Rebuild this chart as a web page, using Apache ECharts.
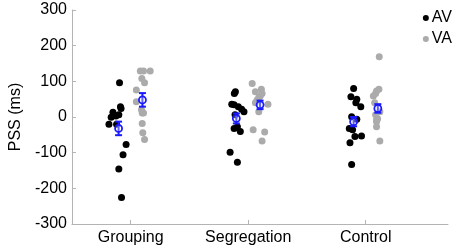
<!DOCTYPE html>
<html>
<head>
<meta charset="utf-8">
<script src="https://cdn.jsdelivr.net/npm/echarts@6/dist/echarts.min.js"></script>
<style>
  html, body { margin: 0; padding: 0; background: #fff; }
  #chart { width: 459px; height: 249px; }
</style>
</head>
<body>
<div id="chart"></div>
<script>
// conditions on the x axis (placed at 1, 2, 3)
const conditions = ["Grouping", "Segregation", "Control"];
const yTicks = [-300, -200, -100, 0, 100, 200, 300];

// individual PSS values (ms) and their jittered x positions
const avX = [
  0.905, 0.913, 0.918, 0.849, 0.899, 0.834, 0.874, 0.815, 0.880, 0.961, 0.935, 0.899, 0.922,
  1.891, 1.882, 1.860, 1.880, 1.916, 1.944, 1.964, 1.888, 1.880, 1.908, 1.933, 1.846, 1.908,
  2.897, 2.874, 2.924, 2.916, 2.958, 2.880, 2.924, 2.860, 2.888, 2.908, 2.964, 2.866, 2.880
];
const avPSS = [
  96, 29, 24, 13, 6, -1, 3, -20, -20, -77, -106, -146, -226,
  71, 66, 36, 34, 29, 22, 15, 6, -32, -27, -41, -99, -127,
  80, 57, 50, 40, 29, 1, -6, -32, -36, -55, -53, -72, -133
];
const vaX = [
  1.082, 1.109, 1.166, 1.095, 1.118, 1.048, 1.048, 1.092, 1.109, 1.098, 1.098, 1.103, 1.118,
  2.034, 2.061, 2.112, 2.118, 2.103, 2.090, 2.061, 2.168, 2.090, 2.042, 2.140, 2.118, 2.076,
  3.115, 3.112, 3.092, 3.084, 3.065, 3.120, 3.084, 3.092, 3.092, 3.092, 3.120, 3.076, 3.101
];
const vaPSS = [
  129, 129, 129, 108, 96, 76, 43, 20, 11, 11, -18, -44, -63,
  94, 71, 78, 66, 59, 55, 40, 36, 15, -36, -42, -67, 48,
  169, 78, 73, 66, 59, 15, 6, -8, -13, -27, -67, 40, -5
];

// group means and error bars
const avMeanX = [0.897, 1.899, 2.897];
const avMean = [-32, -4, -13];
const avErr = [19, 14, 13];
const vaMeanX = [1.100, 2.101, 3.103];
const vaMean = [48, 34, 24];
const vaErr = [19, 12, 12];

const font = 'Arial, "Liberation Sans", sans-serif';
const blue = "#1a1aff";

const zip = (xs, ys) => xs.map((x, i) => [x, ys[i]]);
const meanData = zip(avMeanX, avMean).map((d, i) => [d[0], d[1], avErr[i]])
  .concat(zip(vaMeanX, vaMean).map((d, i) => [d[0], d[1], vaErr[i]]));

const chart = echarts.init(document.getElementById("chart"));

chart.setOption({
  animation: false,
  textStyle: { fontFamily: font },
  grid: { left: 68, right: 11, top: 10, bottom: 25 },
  legend: {
    data: ["AV", "VA"],
    orient: "vertical",
    right: 2,
    top: 5,
    icon: "circle",
    itemWidth: 6,
    itemHeight: 6,
    itemGap: 5,
    textStyle: { fontSize: 16, color: "#000", fontFamily: font, padding: [0, 0, 0, -2] }
  },
  xAxis: {
    type: "value",
    min: 0.5,
    max: 3.7,
    splitLine: { show: false },
    axisLine: { onZero: false, lineStyle: { color: "#b4b4b4" } },
    axisTick: { inside: true, length: 4, lineStyle: { color: "#b4b4b4" }, customValues: [1, 2, 3] },
    axisLabel: {
      customValues: [1, 2, 3],
      formatter: (v) => conditions[Math.round(v) - 1],
      color: "#000",
      fontSize: 16,
      margin: 6
    }
  },
  yAxis: {
    type: "value",
    min: yTicks[0],
    max: yTicks[yTicks.length - 1],
    interval: 100,
    name: "PSS (ms)",
    nameLocation: "middle",
    nameGap: 47,
    nameTextStyle: { fontSize: 16, color: "#000" },
    splitLine: { show: false },
    axisLine: { show: true, onZero: false, lineStyle: { color: "#b4b4b4" } },
    axisTick: { show: true, inside: true, length: 4, lineStyle: { color: "#b4b4b4" } },
    axisLabel: { color: "#000", fontSize: 16, margin: 5 }
  },
  series: [
    {
      name: "AV",
      type: "scatter",
      symbolSize: 7,
      itemStyle: { color: "#000", opacity: 1 },
      data: zip(avX, avPSS)
    },
    {
      name: "VA",
      type: "scatter",
      symbolSize: 7,
      itemStyle: { color: "#ababab", opacity: 1 },
      data: zip(vaX, vaPSS)
    },
    {
      name: "mean",
      type: "custom",
      data: meanData,
      z: 10,
      renderItem: function (params, api) {
        const x = api.value(0), m = api.value(1), e = api.value(2);
        const c = api.coord([x, m]);
        const top = api.coord([x, m + e]);
        const bot = api.coord([x, m - e]);
        const cap = 3.5;
        const st = { stroke: blue, lineWidth: 2, fill: null };
        return {
          type: "group",
          children: [
            { type: "line", shape: { x1: c[0], y1: top[1], x2: c[0], y2: bot[1] }, style: st },
            { type: "line", shape: { x1: c[0] - cap, y1: top[1], x2: c[0] + cap, y2: top[1] }, style: st },
            { type: "line", shape: { x1: c[0] - cap, y1: bot[1], x2: c[0] + cap, y2: bot[1] }, style: st },
            { type: "circle", shape: { cx: c[0], cy: c[1], r: 3.5 }, style: { stroke: blue, lineWidth: 1.8, fill: "rgba(255,255,255,0.3)" } }
          ]
        };
      }
    }
  ]
});
</script>
</body>
</html>
